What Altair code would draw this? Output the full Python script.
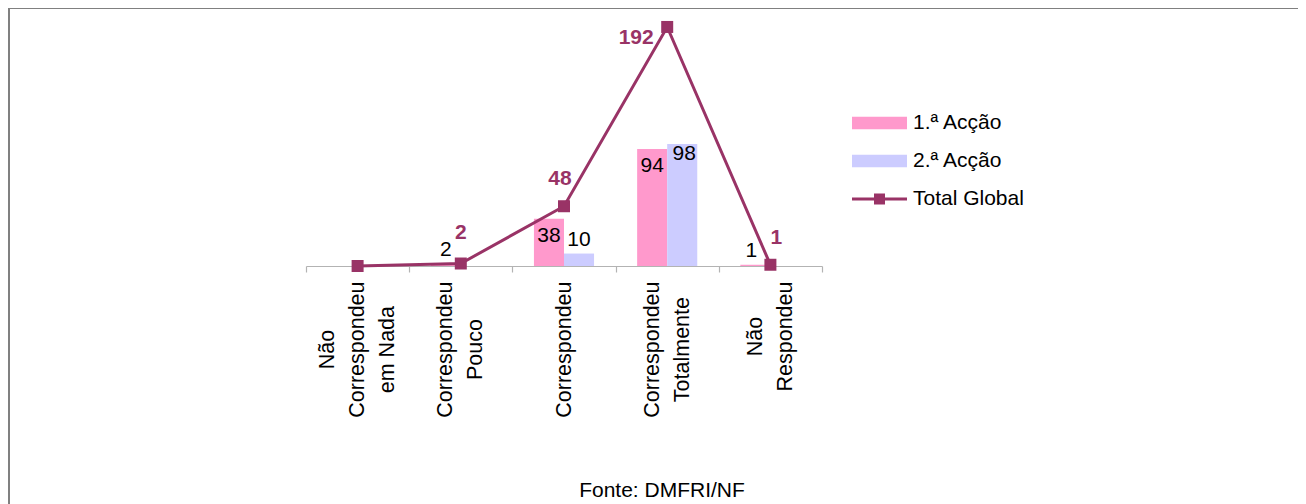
import altair as alt
import pandas as pd

# ---------------- data ----------------
categories = ["Não Correspondeu em Nada", "Correspondeu Pouco", "Correspondeu",
              "Correspondeu Totalmente", "Não Respondeu"]
cat_lines = [["Não", "Correspondeu", "em Nada"], ["Correspondeu", "Pouco"], ["Correspondeu"],
             ["Correspondeu", "Totalmente"], ["Não", "Respondeu"]]
series = ["1.ª Acção", "2.ª Acção", "Total Global"]
acc1 = [0, 2, 38, 94, 1]
acc2 = [0, 0, 10, 98, 0]
total = [0, 2, 48, 192, 1]
# where each data label sits (as in the source chart)
acc1_lab = ["", "above", "inside", "inside", "above_l"]
acc2_lab = ["", "", "above", "top", ""]
total_lab = ["", "above", "above_l", "left", "above_r"]
source_note = "Fonte: DMFRI/NF"

# ---------------- styles ----------------
FONT = "Liberation Sans"
COLORS = ["#FF99CC", "#CCCCFF", "#993366"]
LINE_C = "#993366"
AX_C = "#B3B3B3"
FS = 21
W, H = 516, 249
LH = 30

rows = []
for i, c in enumerate(categories):
    rows.append({"cat": c, "serie": series[0], "value": acc1[i], "pos": acc1_lab[i]})
    rows.append({"cat": c, "serie": series[1], "value": acc2[i], "pos": acc2_lab[i]})
bars_df = pd.DataFrame(rows)
tot_df = pd.DataFrame({"cat": categories, "serie": series[2], "value": total, "pos": total_lab})


def q(s):
    return "'" + s.replace("'", "\\'") + "'"


# approximate Arial widths (em) to centre the rotated label blocks below the axis
_w = {"i": .222, "l": .222, "j": .222, "r": .333, "t": .278, "s": .5, "m": .833, " ": .278,
      "C": .722, "R": .722, "N": .722, "T": .611, "P": .667}


def text_w(s, fs):
    return sum(_w.get(ch, .556) for ch in s) * fs


AXFS = 21.5
label_expr = ""
pad_expr = ""
off_expr = ""
for c, lines in zip(categories, cat_lines):
    arr = "[" + ",".join(q(l) for l in lines) + "]"
    label_expr += f"datum.value == {q(c)} ? {arr} : "
    pad = 9 + max(text_w(l, AXFS) for l in lines) / 2
    pad_expr += f"datum.value == {q(c)} ? {pad:.1f} : "
    off_expr += f"datum.value == {q(c)} ? {-(len(lines) - 1) * LH / 2:.1f} : "
label_expr += "datum.label"
pad_expr += "70"
off_expr += "0"

rect_path = "M-1,-0.23H1V0.23H-1Z"
line_path = "M-1,-0.055H1V0.055H-1Z M-0.2,-0.2H0.2V0.2H-0.2Z"

x_enc = alt.X("cat:N", scale=alt.Scale(domain=categories, paddingInner=0, paddingOuter=0),
              title=None,
              axis=alt.Axis(labelExpr=label_expr, labelAngle=270, labelAlign="center",
                            labelBaseline="middle", labelPadding=alt.expr(pad_expr),
                            labelOffset=alt.expr(off_expr),
                            labelFontSize=AXFS, labelFont=FONT, labelColor="black",
                            labelLineHeight=LH, labelLimit=400, labelOverlap=False,
                            tickBand="extent", tickSize=6, tickColor=AX_C, domainColor=AX_C,
                            domainWidth=1.2, tickWidth=1.2, grid=False))
y_enc = alt.Y("value:Q", scale=alt.Scale(domain=[0, 200], nice=False), axis=None)
xo_enc = alt.XOffset("serie:N", scale=alt.Scale(domain=series[:2], paddingOuter=0.717, paddingInner=0))

legend = alt.Legend(title=None, orient="none", legendX=546, legendY=95.5, direction="vertical",
                    labelFontSize=FS, labelFont=FONT, labelColor="black", labelOffset=6,
                    symbolSize=3025, symbolStrokeWidth=0, rowPadding=16, padding=0,
                    clipHeight=21, labelLimit=300, symbolOpacity=1,
                    symbolType=alt.expr(f"datum.value == {q(series[2])} ? {q(line_path)} : {q(rect_path)}"))
color_enc = alt.Color("serie:N", scale=alt.Scale(domain=series, range=COLORS), legend=legend)

bars = alt.Chart(bars_df).mark_bar(opacity=1).encode(x=x_enc, xOffset=xo_enc, y=y_enc, color=color_enc)


def bar_text(pos, dx, dy):
    return alt.Chart(bars_df).transform_filter(alt.datum.pos == pos).mark_text(
        dx=dx, dy=dy, fontSize=FS, font=FONT, color="black", baseline="middle"
    ).encode(x=x_enc, xOffset=xo_enc, y=y_enc, text="value:Q")


line = alt.Chart(tot_df).mark_line(color=LINE_C, strokeWidth=3).encode(x=x_enc, y=y_enc)
squares = alt.Chart(tot_df).mark_square(size=144, filled=True, opacity=1).encode(
    x=x_enc, y=y_enc, color=color_enc)


def tot_text(pos, dx, dy):
    return alt.Chart(tot_df).transform_filter(alt.datum.pos == pos).mark_text(
        dx=dx, dy=dy, fontSize=FS, font=FONT, fontWeight="bold", color=LINE_C, baseline="middle"
    ).encode(x=x_enc, y=y_enc, text="value:Q")


one = pd.DataFrame({"k": [0]})
border = alt.Chart(one).mark_rect(filled=False, stroke="#808080", strokeWidth=2).encode(
    x=alt.value(-297), x2=alt.value(1200), y=alt.value(-9), y2=alt.value(700))
note = alt.Chart(one).mark_text(text=source_note, fontSize=FS, font=FONT, color="black",
                                align="center", baseline="alphabetic").encode(
    x=alt.value(356), y=alt.value(480))

chart = alt.layer(
    border, bars,
    bar_text("above", 0, -14), bar_text("above_l", -4, -14),
    bar_text("inside", 0, 17), bar_text("top", 2, 10),
    line, squares,
    tot_text("above", 0, -31), tot_text("above_l", -4, -27), tot_text("above_r", 6, -27),
    tot_text("left", -31, 11),
    note,
).properties(
    width=W, height=H,
    autosize=alt.AutoSizeParams(type="none"),
    padding={"left": 298, "top": 9, "right": 476, "bottom": 238},
    background="white",
).configure(font=FONT).configure_view(strokeWidth=0, stroke=None)

chart.save("out.html", embed_options={"renderer": "svg", "actions": False})
